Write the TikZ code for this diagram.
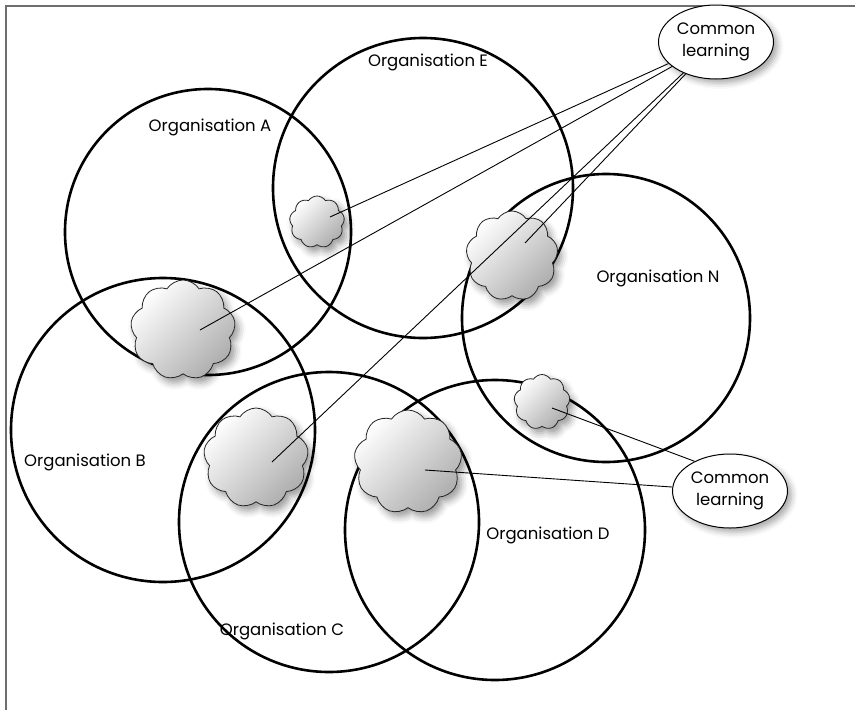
\documentclass[tikz,border=0pt]{standalone}
\usepackage{fontspec}
\setmainfont{Poppins}
\usepackage{tikz}
\usetikzlibrary{shapes.geometric, shapes.symbols, shadows.blur}

\definecolor{framegray}{HTML}{6E6E6E}

\begin{document}
\begin{tikzpicture}[x=1pt, y=-1pt, semithick,
	org/.style={circle, draw, line width=2.6pt, inner sep=0pt},
	lbl/.style={font=\fontsize{16.5}{20}\selectfont},
	puff/.style={cloud, cloud puffs=9, cloud puff arc=115, aspect=1, inner sep=0pt,
		draw=black!85, line width=0.8pt, top color=white, bottom color=black!32, shading angle=45,
		blur shadow={shadow xshift=4pt, shadow yshift=-5pt, shadow blur radius=7pt, shadow opacity=40}},
	learn/.style={ellipse, draw, line width=1pt, fill=white, minimum width=115pt, minimum height=74pt,
		inner sep=0pt, align=center, font=\fontsize{16.5}{22}\selectfont,
		blur shadow={shadow xshift=4pt, shadow yshift=-4pt, shadow blur radius=6pt, shadow opacity=35}},
	link/.style={line width=0.9pt}]
	\useasboundingbox (0,0) rectangle (855,710);
	\draw[framegray, line width=2pt] (855,5.5) -- (5.5,5.5) -- (5.5,710);

	% organisations
	\node[org, minimum size=286pt] (A) at (208,232) {};
	\node[org, minimum size=300pt] (E) at (423,188) {};
	\node[org, minimum size=288pt] (N) at (606,318) {};
	\node[org, minimum size=304pt] (B) at (163,430) {};
	\node[org, minimum size=300pt] (C) at (329,522) {};
	\node[org, minimum size=300pt] (D) at (495,530) {};

	\node[lbl] (tA) at (210,127) {Organisation A};
	\node[lbl] (tE) at (428,62) {Organisation E};
	\node[lbl] (tN) at (658,278) {Organisation N};
	\node[lbl] (tB) at (85,462) {Organisation B};
	\node[lbl] (tC) at (282,631) {Organisation C};
	\node[lbl] (tD) at (548,535) {Organisation D};

	% shared learning
	\node[puff, minimum width=55pt, minimum height=52pt] (ae) at (317,222) {};
	\node[puff, minimum width=105pt, minimum height=100pt] (ab) at (183,330) {};
	\node[puff, minimum width=92pt, minimum height=90pt] (en) at (512,256) {};
	\node[puff, minimum width=105pt, minimum height=100pt] (bc) at (256,458) {};
	\node[puff, minimum width=108pt, minimum height=104pt] (cd) at (408,462) {};
	\node[puff, minimum width=56pt, minimum height=55pt] (nd) at (542,402) {};

	\coordinate (p1) at (330,217);
	\coordinate (p2) at (200,330);
	\coordinate (p3) at (525,243);
	\coordinate (p4) at (272,462);
	\coordinate (p5) at (425,470);
	\coordinate (p6) at (552,408);

	\node[learn] (l1) at (716,42) {Common\\learning};
	\node[learn] (l2) at (730,491) {Common\\learning};

	\draw[link] (p1) -- (l1)
		(p2) -- (l1)
		(p3) -- (l1)
		(p4) -- (l1)
		(p5) -- (l2)
		(p6) -- (l2.140)
	;
\end{tikzpicture}
\end{document}
